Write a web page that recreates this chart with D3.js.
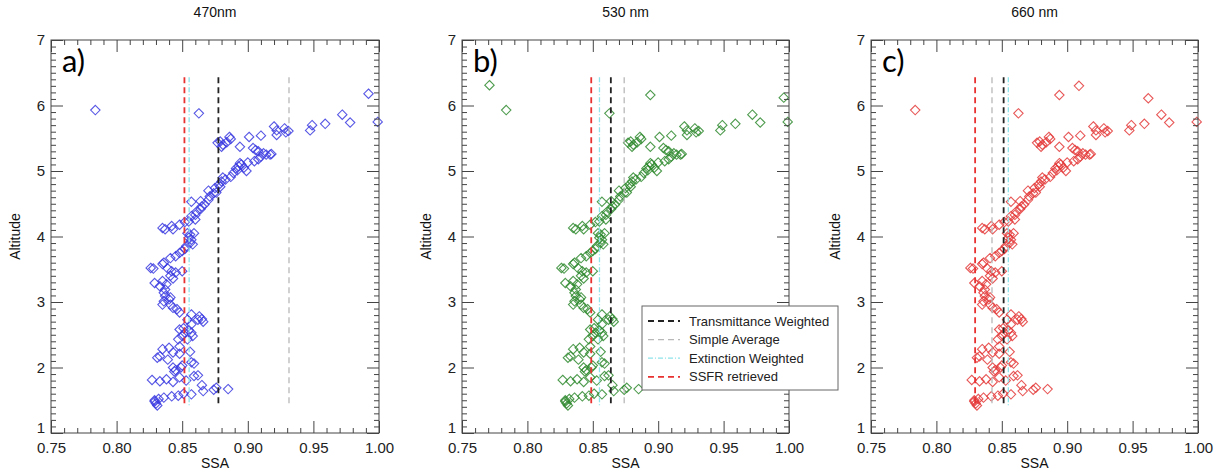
<!DOCTYPE html>
<html>
<head>
<meta charset="utf-8">
<script src="https://cdn.jsdelivr.net/npm/d3@7"></script>
<style>
  body { margin: 0; background: #fff; }
  svg { display: block; font-family: "Liberation Sans", Arial, sans-serif; }
  .tick text { fill: #222; }
</style>
</head>
<body>
<svg width="1219" height="474"></svg>
<script>
// Panel titles and letters
const titles = ["470nm", "530 nm", "660 nm"];
const letters = ["a)", "b)", "c)"];

// SSA / altitude pairs (same profile in all three panels)
const basePoints = [
  [0.829,1.48],[0.830,1.45],[0.831,1.42],[0.829,1.50],[0.832,1.52],
  [0.836,1.54],[0.842,1.56],[0.847,1.57],[0.851,1.60],[0.857,1.59],
  [0.866,1.64],[0.874,1.66],[0.876,1.69],[0.885,1.67],[0.865,1.73],
  [0.827,1.81],[0.833,1.79],[0.838,1.82],[0.843,1.78],[0.848,1.85],[0.853,1.80],
  [0.859,1.87],[0.862,1.88],
  [0.843,2.00],[0.845,1.96],[0.844,1.94],[0.849,2.00],[0.850,2.03],[0.859,2.06],[0.857,2.08],
  [0.831,2.15],[0.833,2.17],[0.835,2.28],[0.840,2.30],[0.843,2.23],[0.839,2.12],[0.848,2.21],[0.848,2.32],[0.856,2.24],
  [0.847,2.43],[0.850,2.48],[0.852,2.53],[0.848,2.58],[0.851,2.60],[0.855,2.57],[0.857,2.53],[0.858,2.48],[0.854,2.43],
  [0.857,2.66],[0.854,2.73],[0.857,2.81],
  [0.863,2.78],[0.865,2.74],[0.866,2.70],[0.862,2.73],
  [0.848,2.84],[0.846,2.89],[0.843,2.91],[0.841,2.96],[0.840,3.04],[0.841,3.07],[0.837,3.09],[0.836,3.01],
  [0.835,2.96],[0.836,3.14],[0.837,3.19],[0.833,3.24],[0.829,3.29],[0.835,3.32],[0.838,3.27],
  [0.841,3.40],[0.843,3.36],[0.845,3.45],[0.850,3.47],[0.842,3.47],[0.839,3.51],[0.836,3.60],[0.835,3.58],
  [0.828,3.51],[0.826,3.52],
  [0.841,3.67],[0.845,3.70],[0.848,3.75],[0.850,3.78],[0.852,3.81],[0.853,3.85],[0.856,3.90],[0.858,3.88],
  [0.857,3.95],[0.855,3.98],[0.856,4.03],[0.859,4.05],[0.854,4.05],
  [0.835,4.13],[0.837,4.11],[0.842,4.16],[0.843,4.11],[0.848,4.18],[0.852,4.22],[0.855,4.23],
  [0.857,4.31],[0.860,4.33],[0.860,4.26],[0.861,4.38],[0.864,4.42],[0.865,4.46],[0.867,4.49],[0.857,4.53],
  [0.864,4.54],[0.870,4.56],
  [0.871,4.61],[0.874,4.66],[0.876,4.67],[0.870,4.70],[0.875,4.74],[0.878,4.79],[0.880,4.84],[0.883,4.87],
  [0.887,4.91],[0.879,4.76],[0.881,4.90],
  [0.889,4.97],[0.892,5.01],[0.893,5.07],[0.895,5.10],[0.897,5.05],[0.899,5.00],[0.900,5.13],[0.891,5.04],[0.894,5.12],
  [0.905,5.15],[0.908,5.18],[0.910,5.22],[0.914,5.25],[0.917,5.25],[0.918,5.26],[0.906,5.32],[0.904,5.35],
  [0.908,5.30],[0.912,5.27],
  [0.894,5.37],[0.886,5.52],[0.887,5.49],[0.884,5.44],[0.881,5.40],[0.879,5.45],[0.880,5.37],[0.877,5.43],
  [0.901,5.52],[0.910,5.54],
  [0.920,5.68],[0.922,5.62],[0.922,5.55],[0.928,5.65],[0.929,5.59],[0.931,5.61],[0.9475,5.62],[0.949,5.70],
  [0.959,5.72],[0.972,5.86],[0.978,5.74],[0.999,5.75],
  [0.8627,5.88],[0.7838,5.93]
];

// Points that differ between panels
const extraA = [[0.992,6.18]];
const extraB = [[0.771,6.31],[0.894,6.16],[0.996,6.12]];
const extraC = [[0.894,6.16],[0.909,6.30],[0.962,6.11]];

// Reference SSA values: transmittance weighted, simple average, extinction weighted, SSFR retrieved
const refA = [0.8776, 0.9314, 0.8553, 0.8517];
const refB = [0.8638, 0.8740, 0.8551, 0.8488];
const refC = [0.8514, 0.8425, 0.8550, 0.8296];
const refAltitude = [1.40, 6.43];

const legendLabels = ["Transmittance Weighted", "Simple Average", "Extinction Weighted", "SSFR retrieved"];

// styles
const pointColors = ["#3a3ae0", "#2f8a2f", "#e43a3a"];
const refStyles = [
  {stroke: "#222", width: 1.8, dash: "6,4"},
  {stroke: "#b8b8b8", width: 1.3, dash: "6,4"},
  {stroke: "#8ee4ea", width: 1.3, dash: "5,2,1,2"},
  {stroke: "#e83232", width: 1.8, dash: "6,4"}
];

const svg = d3.select("svg");
const plotTop = 40, plotBottom = 433;
const panelX = [[51, 379], [462, 789], [871, 1198]];
const allPoints = [basePoints.concat(extraA), basePoints.concat(extraB), basePoints.concat(extraC)];
const allRefs = [refA, refB, refC];

const y = d3.scaleLinear().domain([1, 7]).range([plotBottom, plotTop]);

const xMajor = d3.range(0, 6).map(i => 0.75 + i * 0.05);
const xMinor = d3.range(1, 25).map(i => 0.75 + i * 0.01).filter((v, i) => (i + 1) % 5 !== 0);
const yMajor = d3.range(1, 8);
const yMinor = d3.range(10, 70).map(i => i / 10).filter(v => Math.abs(v - Math.round(v)) > 1e-6);

const diamond = "M0,-4.7L4.7,0L0,4.7L-4.7,0Z";

titles.forEach((title, p) => {
  const [x0, x1] = panelX[p];
  const x = d3.scaleLinear().domain([0.75, 1.0]).range([x0, x1]);
  const g = svg.append("g");

  // title
  g.append("text")
    .attr("x", (x0 + x1) / 2).attr("y", 17)
    .attr("text-anchor", "middle")
    .attr("font-size", 14).attr("fill", "#111")
    .text(title);

  // points
  g.append("g").selectAll("path")
    .data(allPoints[p])
    .join("path")
    .attr("d", diamond)
    .attr("transform", d => `translate(${x(d[0])},${y(d[1])})`)
    .attr("fill", "none")
    .attr("stroke", pointColors[p])
    .attr("stroke-opacity", 0.85)
    .attr("stroke-width", 1.1);

  // reference lines
  g.append("g").selectAll("line")
    .data(allRefs[p])
    .join("line")
    .attr("x1", d => x(d)).attr("x2", d => x(d))
    .attr("y1", y(refAltitude[1])).attr("y2", y(refAltitude[0]))
    .attr("stroke", (d, i) => refStyles[i].stroke)
    .attr("stroke-width", (d, i) => refStyles[i].width)
    .attr("stroke-dasharray", (d, i) => refStyles[i].dash);

  // axes: ticks pointing inward on all four sides
  const axisColor = "#444";
  const styleAxis = sel => {
    sel.select(".domain").remove();
    sel.selectAll(".tick line").attr("stroke", axisColor);
  };
  g.append("g").attr("transform", `translate(0,${plotBottom})`)
    .call(d3.axisBottom(x).tickValues(xMajor).tickSize(-12).tickPadding(9).tickFormat(d3.format(".2f")))
    .call(styleAxis)
    .call(a => a.selectAll("text").attr("font-size", 15));
  g.append("g").attr("transform", `translate(0,${plotBottom})`)
    .call(d3.axisBottom(x).tickValues(xMinor).tickSize(-5).tickFormat(""))
    .call(styleAxis);
  g.append("g").attr("transform", `translate(0,${plotTop})`)
    .call(d3.axisTop(x).tickValues(xMajor).tickSize(-12).tickFormat(""))
    .call(styleAxis);
  g.append("g").attr("transform", `translate(0,${plotTop})`)
    .call(d3.axisTop(x).tickValues(xMinor).tickSize(-5).tickFormat(""))
    .call(styleAxis);
  g.append("g").attr("transform", `translate(${x0},0)`)
    .call(d3.axisLeft(y).tickValues(yMajor).tickSize(-12).tickPadding(6).tickFormat(d3.format("d")))
    .call(styleAxis)
    .call(a => a.selectAll("text").attr("font-size", 15))
    .call(a => a.selectAll(".tick text").filter(d => d === 1).attr("dy", "-0.05em"));
  g.append("g").attr("transform", `translate(${x0},0)`)
    .call(d3.axisLeft(y).tickValues(yMinor).tickSize(-5).tickFormat(""))
    .call(styleAxis);
  g.append("g").attr("transform", `translate(${x1},0)`)
    .call(d3.axisRight(y).tickValues(yMajor).tickSize(-12).tickFormat(""))
    .call(styleAxis);
  g.append("g").attr("transform", `translate(${x1},0)`)
    .call(d3.axisRight(y).tickValues(yMinor).tickSize(-5).tickFormat(""))
    .call(styleAxis);

  g.append("rect")
    .attr("x", x0).attr("y", plotTop)
    .attr("width", x1 - x0).attr("height", plotBottom - plotTop)
    .attr("fill", "none").attr("stroke", axisColor).attr("stroke-width", 1);

  // panel letter
  g.append("text")
    .attr("x", x0 + 11).attr("y", 72)
    .attr("font-family", "Lato, 'Open Sans', sans-serif")
    .attr("font-size", 31).attr("fill", "#000")
    .text(letters[p]);

  // axis titles
  g.append("text")
    .attr("x", (x0 + x1) / 2).attr("y", 468)
    .attr("text-anchor", "middle").attr("font-size", 14).attr("fill", "#111")
    .text("SSA");
  g.append("text")
    .attr("transform", `translate(${x0 - 31},${(plotTop + plotBottom) / 2}) rotate(-90)`)
    .attr("text-anchor", "middle").attr("font-size", 14).attr("fill", "#111")
    .text("Altitude");
});

// legend (sits in panel b and runs past its right axis)
const legend = svg.append("g").attr("transform", "translate(642,306)");
legend.append("rect")
  .attr("width", 196).attr("height", 84)
  .attr("fill", "#fff").attr("stroke", "#666").attr("stroke-width", 1);
legendLabels.forEach((label, i) => {
  const ly = 15 + i * 18.6;
  legend.append("line")
    .attr("x1", 6).attr("x2", 38).attr("y1", ly).attr("y2", ly)
    .attr("stroke", refStyles[i].stroke)
    .attr("stroke-width", refStyles[i].width)
    .attr("stroke-dasharray", refStyles[i].dash);
  legend.append("text")
    .attr("x", 47).attr("y", ly + 4.5)
    .attr("font-size", 13).attr("fill", "#222")
    .text(label);
});
</script>
</body>
</html>
